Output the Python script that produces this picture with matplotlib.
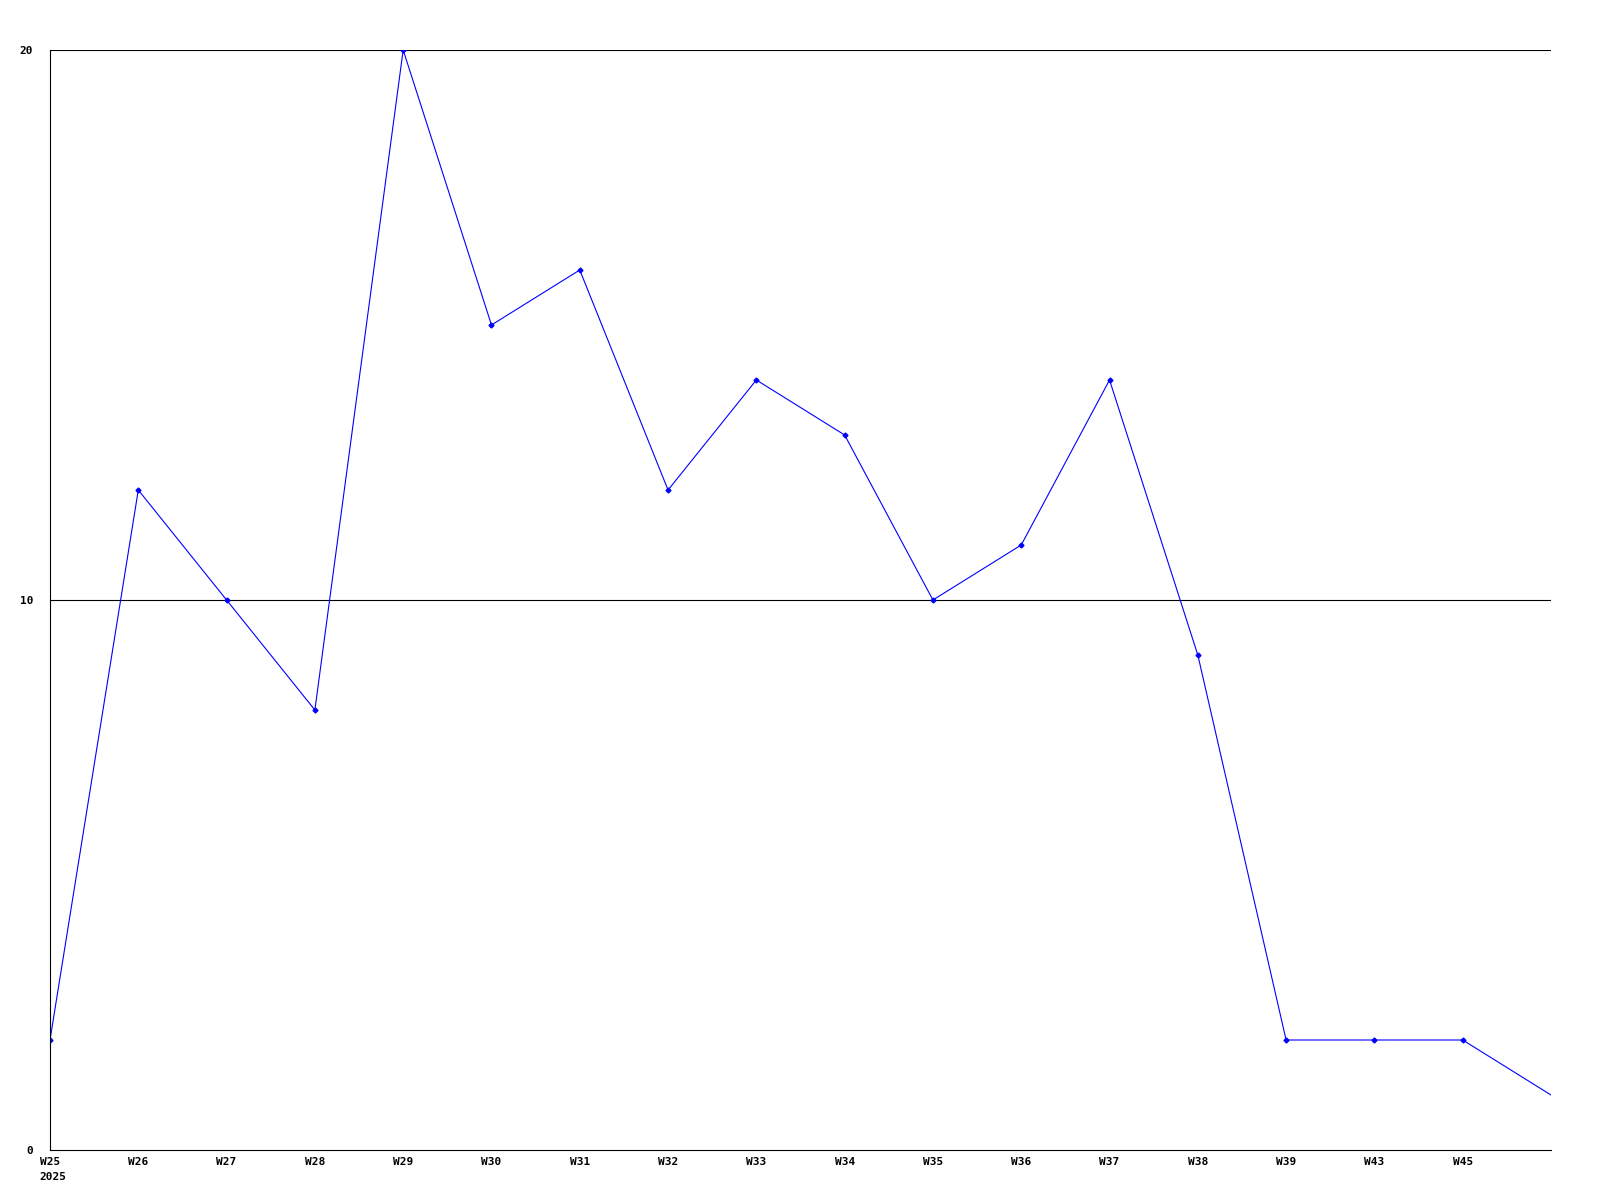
import matplotlib
matplotlib.use("Agg")
import matplotlib.pyplot as plt

# weekly values
weeks = ["W25", "W26", "W27", "W28", "W29", "W30", "W31", "W32", "W33",
         "W34", "W35", "W36", "W37", "W38", "W39", "W43", "W45"]
values = [2, 12, 10, 8, 20, 15, 16, 12, 14, 13, 10, 11, 14, 9, 2, 2, 2]
last_value = 1  # trailing point at the right edge, no label
year = "2025"
y_ticks = [0, 10, 20]

fig = plt.figure(figsize=(16, 12), dpi=100)
ax = fig.add_axes([50 / 1600, 50 / 1200, 1501 / 1600, 1100 / 1200])

xs = list(range(len(weeks)))
ax.plot(xs + [len(weeks)], values + [last_value], color="#0000ff", lw=0.8)
ax.plot(xs, values, ls="none", marker="D", ms=2.5, color="#0000ff")

ax.set_xlim(0, len(weeks))
ax.set_ylim(0, 20)

for y in y_ticks[1:]:
    ax.axhline(y, color="black", lw=0.8, zorder=0)

for s in ["top", "right"]:
    ax.spines[s].set_visible(False)
for s in ["left", "bottom"]:
    ax.spines[s].set_linewidth(0.8)

fnt = dict(family="DejaVu Sans Mono", weight="bold", size=8)
ax.set_xticks(xs)
ax.set_xticklabels(weeks, **fnt)
ax.set_yticks(y_ticks)
ax.set_yticklabels([str(v) for v in y_ticks], **fnt)
ax.tick_params(axis="x", length=0, pad=5)
ax.tick_params(axis="y", length=0, pad=12)

ax.annotate(year, xy=(0, 0), xytext=(-8, -16), textcoords="offset points",
            ha="left", va="top", **fnt)

fig.savefig("out.png", dpi=100)
